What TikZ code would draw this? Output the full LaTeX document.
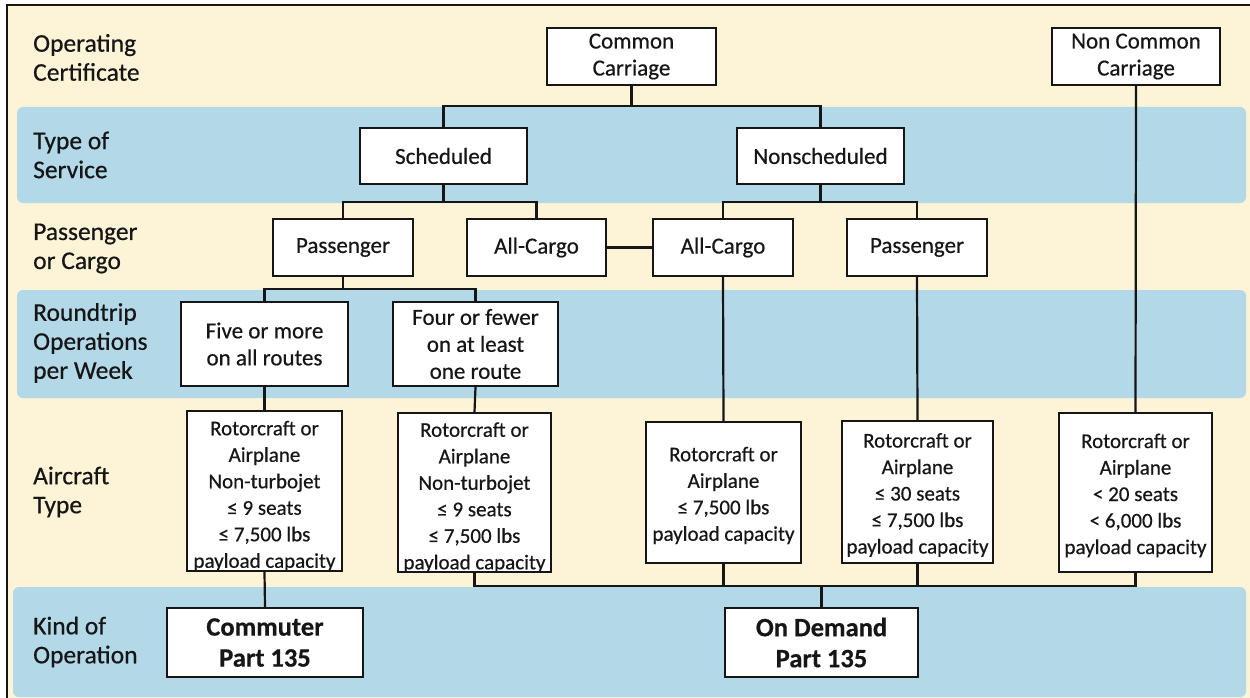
\documentclass[tikz,border=0pt]{standalone}
\usepackage{fontspec}
\setmainfont{Carlito}[FakeBold=0.5]
\definecolor{cream}{RGB}{253,243,214}
\definecolor{bandblue}{RGB}{179,216,232}
\definecolor{ink}{RGB}{22,22,22}
\begin{document}
\begin{tikzpicture}[x=1pt,y=-1pt,
  box/.style={draw=ink, line width=2.2pt, fill=white, inner sep=0pt, align=center, text=ink,
    line join=miter, font=\fontsize{23}{27}\selectfont},
  bigbox/.style={box, font=\fontsize{26.5}{31}\selectfont\bfseries},
  atext/.style={inner sep=0pt, align=center, text=ink, font=\fontsize{21}{26.5}\selectfont},
  lab/.style={anchor=west, align=left, text=ink, inner sep=0pt, font=\fontsize{25.5}{29}\selectfont},
  link/.style={draw=ink, line width=2.2pt},
  band/.style={fill=bandblue, rounded corners=6pt}]
\useasboundingbox (0,0) rectangle (1250,698);
% background
\fill[cream] (8,6) rectangle (1250,698);
\fill[band] (17,107) rectangle (1246,203);
\fill[band] (17,290) rectangle (1246,398);
\fill[band] (13,587) rectangle (1246,697);
\draw[ink, line width=1.5pt] (7,703) -- (7,5) -- (1255,5);

% row labels
\node[lab] (l1) at (33,57.5) {Operating\\Certificate};
\node[lab] (l2) at (33,155) {Type of\\Service};
\node[lab] (l3) at (33,248.5) {Passenger\\or Cargo};
\node[lab] (l4) at (33,343) {Roundtrip\\Operations\\per Week};
\node[lab] (l5) at (33,492) {Aircraft\\Type};
\node[lab] (l6) at (33,642) {Kind of\\Operation};

% boxes
\node[box, minimum width=169pt, minimum height=57pt] (cc) at (631.5,56.5) {Common\\Carriage};
\node[box, minimum width=168pt, minimum height=57pt] (ncc) at (1136,56.5) {Non Common\\Carriage};
\node[box, minimum width=167pt, minimum height=56pt] (sched) at (443.5,156) {Scheduled};
\node[box, minimum width=167pt, minimum height=56pt] (nons) at (820.5,156) {Nonscheduled};
\node[box, minimum width=140pt, minimum height=57pt] (passL) at (343,247.5) {Passenger};
\node[box, minimum width=139pt, minimum height=57pt] (cargoL) at (536.5,247.5) {All-Cargo};
\node[box, minimum width=140pt, minimum height=57pt] (cargoR) at (723,247.5) {All-Cargo};
\node[box, minimum width=140pt, minimum height=57pt] (passR) at (917,247.5) {Passenger};
\node[box, minimum width=167pt, minimum height=84pt] (five) at (264.5,344) {Five or more\\on all routes};
\node[box, minimum width=165pt, minimum height=84pt] (four) at (475.5,344) {Four or fewer\\on at least\\one route};
\node[box, minimum width=155pt, minimum height=160pt] (a1) at (264.5,491) {};
\node[box, minimum width=153pt, minimum height=159pt] (a2) at (474.5,492.5) {};
\node[box, minimum width=155pt, minimum height=141pt] (a3) at (723.5,492.5) {};
\node[box, minimum width=151pt, minimum height=142pt] (a4) at (917.5,492) {};
\node[box, minimum width=153pt, minimum height=159pt] (a5) at (1135.5,492.5) {};
\node[atext] (a1t) at ([yshift=-5pt]a1.center) {Rotorcraft or\\Airplane\\Non-turbojet\\≤ 9 seats\\≤ 7,500 lbs\\payload capacity};
\node[atext] (a2t) at ([yshift=-5pt]a2.center) {Rotorcraft or\\Airplane\\Non-turbojet\\≤ 9 seats\\≤ 7,500 lbs\\payload capacity};
\node[atext] (a3t) at ([yshift=-3pt]a3.center) {Rotorcraft or\\Airplane\\≤ 7,500 lbs\\payload capacity};
\node[atext] (a4t) at ([yshift=-3pt]a4.center) {Rotorcraft or\\Airplane\\≤ 30 seats\\≤ 7,500 lbs\\payload capacity};
\node[atext] (a5t) at ([yshift=-3pt]a5.center) {Rotorcraft or\\Airplane\\< 20 seats\\< 6,000 lbs\\payload capacity};
\node[bigbox, minimum width=196pt, minimum height=69pt] (comm) at (265,642.5) {Commuter\\Part 135};
\node[bigbox, minimum width=193pt, minimum height=69pt] (od) at (821.5,642.5) {On Demand\\Part 135};

% connectors
\coordinate (j1) at (631.5,106);
\draw[link] (cc.south) -- (j1);
\draw[link] (sched.north) |- (j1) -| (nons.north);
\coordinate (j2) at (443.5,202);
\draw[link] (sched.south) -- (j2);
\draw[link] (passL.north) |- (j2) -| (cargoL.north);
\coordinate (j3) at (820.5,202);
\draw[link] (nons.south) -- (j3);
\draw[link] (cargoR.north) |- (j3) -| (passR.north);
\draw[link] (cargoL.east) -- (cargoR.west);
\coordinate (j4) at (343,289);
\draw[link] (passL.south) -- (j4);
\draw[link] (five.north) |- (j4) -| (four.north);
\draw[link] (ncc.south) -- (a5.north);
\draw[link] (five.south) -- (a1.north);
\draw[link] (four.south) -- (a2.north);
\draw[link] (cargoR.south) -- (a3.north);
\draw[link] (passR.south) -- (a4.north);
\draw[link] (a1.south) -- (comm.north);
\coordinate (j5) at (821.5,586);
\draw[link] (a2.south) |- (j5) -| (a5.south);
\draw[link] (a3.south) -- (a3.south |- j5);
\draw[link] (a4.south) -- (a4.south |- j5);
\draw[link] (j5) -- (od.north);
\end{tikzpicture}
\end{document}
